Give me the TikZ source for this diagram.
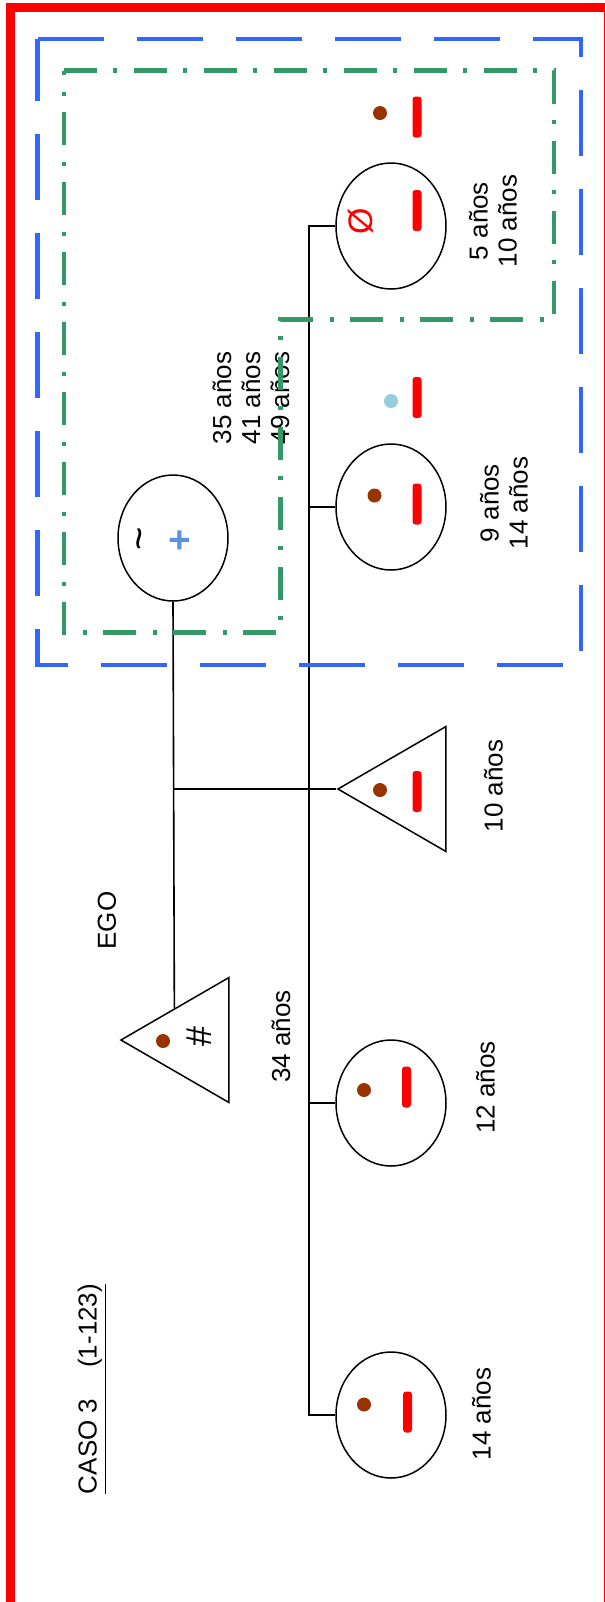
\documentclass[tikz,border=0pt]{standalone}
\usepackage{fontspec}
\setmainfont{Liberation Sans}
\usepackage{tikz}
\usetikzlibrary{shapes.geometric}
\definecolor{marron}{RGB}{153,51,0}
\definecolor{celeste}{RGB}{150,205,220}
\definecolor{azulmarco}{RGB}{51,102,255}
\definecolor{verdemarco}{RGB}{51,153,102}
\definecolor{azulcruz}{RGB}{90,145,225}

\begin{document}
\begin{tikzpicture}[x=0.5pt,y=-0.5pt,
    mujer/.style={draw,ellipse,line width=0.75pt,inner sep=0pt,minimum width=55pt,minimum height=63pt},
    hombre/.style={draw,isosceles triangle,isosceles triangle stretches=true,shape border rotate=180,
        line width=0.75pt,inner sep=0pt,minimum width=62.5pt,minimum height=54pt,anchor=apex},
    punto/.style={circle,fill=marron,inner sep=0pt,minimum size=7pt},
    barra/.style={rectangle,fill=red,inner sep=0pt,minimum width=4.5pt,minimum height=20.5pt,rounded corners=1.5pt},
    edad/.style={rotate=90,align=center,font=\fontsize{13pt}{14.5pt}\selectfont},
    signo/.style={rotate=90,inner sep=0pt},
    linea/.style={line width=0.8pt}]
    \useasboundingbox (0,0) rectangle (605,1602);

    \node[mujer] (m) at (173,538) {};
    \node[mujer] (h1) at (391,226) {};
    \node[mujer] (h2) at (391,507) {};
    \node[hombre] (h3) at (336,789) {};
    \node[hombre] (ego) at (119,1040) {};
    \node[mujer] (h4) at (391,1103) {};
    \node[mujer] (h5) at (391,1415) {};
    \coordinate (hs) at (309,226);

    \draw[linea] (m.south) -- (ego.right side);
    \draw[linea] (m.south |- h3.apex) -- (h3.apex);
    \draw[linea] (h1.west) -- (hs) -- (hs |- h5.west) -- (h5.west);
    \draw[linea] (h2.west) -- (hs |- h2.west);
    \draw[linea] (h4.west) -- (hs |- h4.west);

    \node[punto] (d1) at (380,113) {};
    \node[punto] (d2) at (374.5,495.5) {};
    \node[punto] (d3) at (380,790) {};
    \node[punto] (d4) at (163,1041) {};
    \node[punto] (d5) at (364,1090) {};
    \node[punto] (d6) at (364,1404.5) {};
    \node[punto,fill=celeste] (d7) at (391,401) {};

    \node[barra] (b1) at (417,117) {};
    \node[barra] (b2) at (417,210.5) {};
    \node[barra] (b3) at (417,397.5) {};
    \node[barra] (b4) at (417,504) {};
    \node[barra] (b5) at (417,791.5) {};
    \node[barra] (b6) at (406.5,1087) {};
    \node[barra] (b7) at (407.5,1412) {};

    \node[signo,text=red,font=\fontsize{17pt}{17pt}\selectfont] (s1) at (361,221) {Ø};
    \node[signo,font=\fontsize{20pt}{20pt}\selectfont] (s2) at (144.5,539) {\textasciitilde};
    \node[signo,text=azulcruz,font=\bfseries\fontsize{19pt}{19pt}\selectfont] (s3) at (181.5,540) {+};
    \node[signo,font=\fontsize{18pt}{18pt}\selectfont] (s4) at (199,1036) {\#};

    \node[edad] (t1) at (493,221) {5 años\\10 años};
    \node[edad] (t2) at (504,503) {9 años\\14 años};
    \node[edad] (t3) at (251,398) {35 años\\41 años\\49 años};
    \node[edad] (t4) at (493.5,786) {10 años};
    \node[edad] (t5) at (107,920.5) {EGO};
    \node[edad] (t6) at (281,1036.5) {34 años};
    \node[edad] (t7) at (485.5,1087.5) {12 años};
    \node[edad] (t8) at (481.5,1414) {14 años};
    \node[edad] (caso) at (92,1389) {\underline{CASO 3\hspace{15.5pt}(1-123)}};

    \draw[red,line width=4.5pt] (10.5,7.5) rectangle (608.5,1607);
    \draw[azulmarco,line width=2.25pt,dash pattern=on 33pt off 16.5pt]
        (37.5,39) -- (581,39) -- (581,665) -- (37.5,665) -- cycle;
    \draw[verdemarco,line width=2.2pt,dash pattern=on 16.5pt off 8pt on 2pt off 8.5pt]
        (64,70.5) -- (554,70.5) -- (554,319.5) -- (280.5,319.5) -- (280.5,632.5) -- (64,632.5) -- cycle;
\end{tikzpicture}
\end{document}
